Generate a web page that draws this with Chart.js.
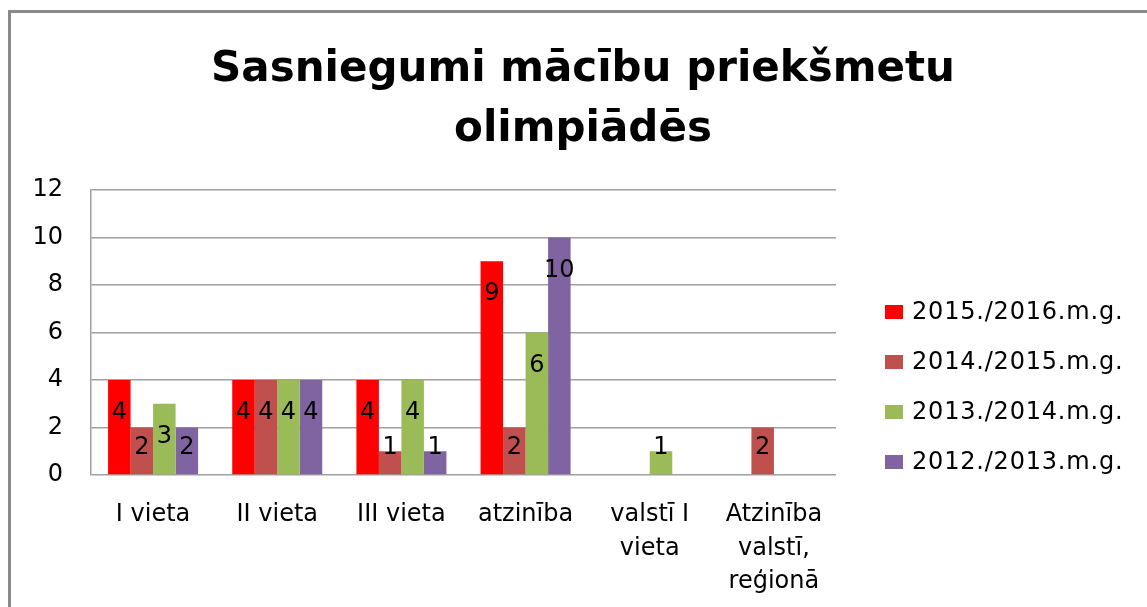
<!DOCTYPE html>
<html>
<head>
<meta charset="utf-8">
<script src="https://cdn.jsdelivr.net/npm/chart.js@4.4.0/dist/chart.umd.min.js"></script>
<style>
  html, body { margin: 0; padding: 0; background: #fff; overflow: hidden; }
  #kaste { position: relative; width: 1147px; height: 607px; }
  #ramis { position: absolute; left: 8px; top: 10px; width: 1200px; height: 700px;
           border-top: 3px solid #8a8a8a; border-left: 3px solid #8a8a8a; }
  #kanva { position: absolute; left: 0; top: 0; }
</style>
</head>
<body>
<div id="kaste">
  <div id="ramis"></div>
  <canvas id="kanva" width="1147" height="607"></canvas>
</div>
<script>
// Dati
const virsraksts = ['Sasniegumi mācību priekšmetu', 'olimpiādēs'];
const kategorijas = ['I vieta', 'II vieta', 'III vieta', 'atzinība', ['valstī I', 'vieta'], ['Atzinība', 'valstī,', 'reģionā']];
const gadi = ['2015./2016.m.g.', '2014./2015.m.g.', '2013./2014.m.g.', '2012./2013.m.g.'];
const v2015 = [4, 4, 4, 9, null, null];
const v2014 = [2, 4, 1, 2, null, 2];
const v2013 = [3, 4, 4, 6, 1, null];
const v2012 = [2, 4, 1, 10, null, null];
const yMin = 0;
const yMax = 12;
const ySolis = 2;

const krasas = ['#ff0000', '#c0504d', '#9bbb59', '#8064a2'];
const fonts = 'DejaVu Sans';

// Vērtības uz stabiņiem
const vertibuPlugins = {
  id: 'vertibas',
  afterDatasetsDraw(chart) {
    const ctx = chart.ctx;
    ctx.save();
    ctx.font = '24px "' + fonts + '"';
    ctx.fillStyle = '#000';
    ctx.textAlign = 'center';
    ctx.textBaseline = 'middle';
    chart.data.datasets.forEach((ds, i) => {
      const meta = chart.getDatasetMeta(i);
      meta.data.forEach((el, j) => {
        const v = ds.data[j];
        if (v === null || v === undefined) return;
        const y = Math.min(el.y + 33, el.base - 26);
        ctx.fillText(String(v), el.x, y);
      });
    });
    ctx.restore();
  }
};

// Virsraksts un leģenda
const rotajumsPlugins = {
  id: 'rotajums',
  afterDraw(chart) {
    const ctx = chart.ctx;
    ctx.save();
    ctx.fillStyle = '#000';
    ctx.textAlign = 'center';
    ctx.textBaseline = 'alphabetic';
    ctx.font = 'bold 42px "' + fonts + '"';
    virsraksts.forEach((r, i) => ctx.fillText(r, 583, 81 + i * 60));

    ctx.font = '24px "' + fonts + '"';
    ctx.textAlign = 'left';
    ctx.textBaseline = 'middle';
    ctx.letterSpacing = '0.8px';
    chart.data.datasets.forEach((ds, i) => {
      const yc = 312 + i * 50;
      ctx.fillStyle = ds.backgroundColor;
      ctx.fillRect(885, yc - 7, 18, 14);
      ctx.fillStyle = '#000';
      ctx.fillText(ds.label, 912, yc + 1);
    });
    ctx.restore();
  }
};

const vertibas = [v2015, v2014, v2013, v2012];

new Chart(document.getElementById('kanva'), {
  type: 'bar',
  data: {
    labels: kategorijas,
    datasets: gadi.map((g, i) => ({
      label: g,
      data: vertibas[i],
      backgroundColor: krasas[i],
      borderWidth: 0,
      categoryPercentage: 0.725,
      barPercentage: 1.0
    }))
  },
  options: {
    responsive: false,
    animation: false,
    layout: { padding: { top: 190, right: 311, bottom: 0, left: 0 } },
    plugins: {
      legend: { display: false },
      title: { display: false },
      tooltip: { enabled: false }
    },
    scales: {
      x: {
        grid: { display: false },
        border: { display: false },
        ticks: {
          color: '#000',
          padding: 15,
          maxRotation: 0,
          autoSkip: false,
          font: { family: fonts, size: 24, lineHeight: 1.4 }
        },
        afterFit(s) { s.height = 132; }
      },
      y: {
        min: yMin,
        max: yMax,
        grid: { color: '#a0a0a0', lineWidth: 1.5, drawTicks: false },
        border: { display: true, color: '#a0a0a0', width: 1.5 },
        ticks: {
          stepSize: ySolis,
          color: '#000',
          padding: 28,
          font: { family: fonts, size: 24 }
        },
        afterFit(s) { s.width = 91; }
      }
    }
  },
  plugins: [vertibuPlugins, rotajumsPlugins]
});
</script>
</body>
</html>
